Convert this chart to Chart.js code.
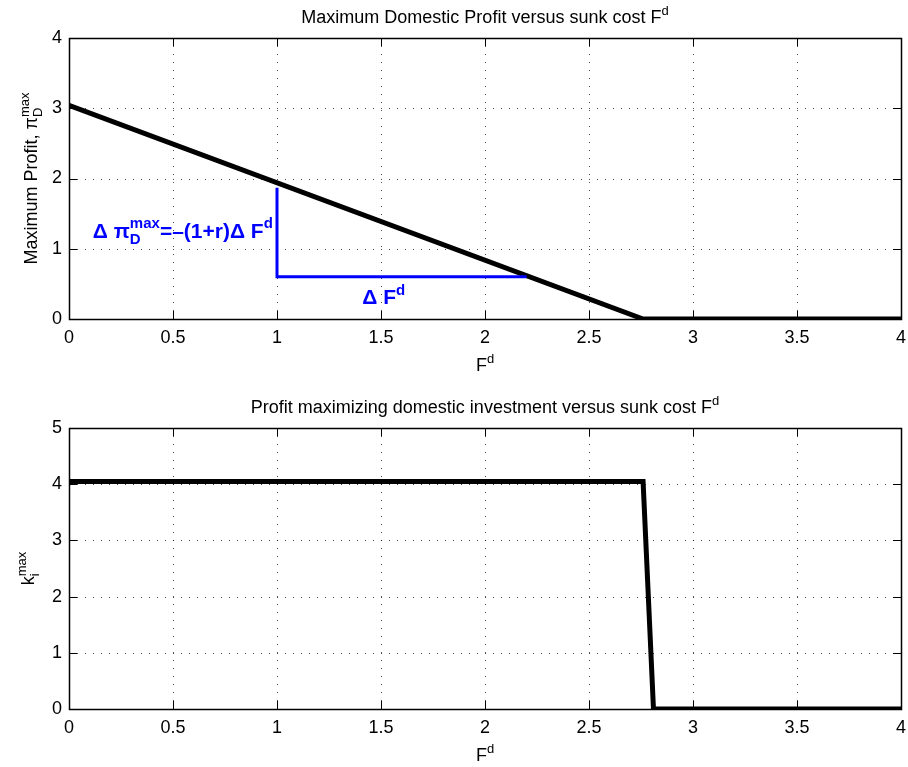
<!DOCTYPE html>
<html>
<head>
<meta charset="utf-8">
<script src="https://cdn.jsdelivr.net/npm/chart.js@4.4.1/dist/chart.umd.min.js"></script>
<style>
  body { margin: 0; background: #fff; }
  #wrap { position: relative; width: 908px; height: 767px; }
  canvas { position: absolute; left: 0; }
</style>
</head>
<body>
<div id="wrap">
  <canvas id="topChart" width="908" height="380" style="top:0"></canvas>
  <canvas id="bottomChart" width="908" height="387" style="top:380px"></canvas>
</div>
<script>
// data
const xTicks = [0, 0.5, 1, 1.5, 2, 2.5, 3, 3.5, 4];
const yTicksTop = [0, 1, 2, 3, 4];
const yTicksBottom = [0, 1, 2, 3, 4, 5];

// maximum domestic profit vs sunk cost
const profitFd = [0, 2.76, 4];
const profitMax = [3.04, 0, 0];

// slope triangle (blue)
const deltaFd = [1, 1, 2.2];
const deltaPi = [1.87, 0.6, 0.6];

// profit maximizing investment vs sunk cost
const invFd = [0, 2.76, 2.81, 4];
const invMax = [4.05, 4.05, 0, 0];

const FONT = '"Liberation Sans", Arial, Helvetica, sans-serif';
const TXT = 18;

function toPoints(xs, ys) {
  return xs.map((x, i) => ({ x: x, y: ys[i] }));
}

// draws text made of pieces, some raised or lowered
function drawRich(ctx, parts, x, y, size, bold, color, align) {
  const big = (bold ? 'bold ' : '') + size + 'px ' + FONT;
  const small = (bold ? 'bold ' : '') + Math.round(size * 0.72) + 'px ' + FONT;
  const widths = parts.map(p => {
    if (p.pair) {
      ctx.font = small;
      return Math.max(ctx.measureText(p.sub).width, ctx.measureText(p.sup).width);
    }
    ctx.font = (p.sub || p.sup) ? small : big;
    return ctx.measureText(p.t).width;
  });
  const total = widths.reduce((s, v) => s + v, 0);
  let cx = x;
  if (align === 'center') cx = x - total / 2;
  if (align === 'right') cx = x - total;
  ctx.fillStyle = color;
  ctx.textBaseline = 'alphabetic';
  ctx.textAlign = 'left';
  parts.forEach((p, i) => {
    if (p.pair) {
      ctx.font = small;
      ctx.fillText(p.sup, cx, y - size * 0.45);
      ctx.fillText(p.sub, cx, y + size * 0.3);
    } else {
      ctx.font = (p.sub || p.sup) ? small : big;
      let dy = 0;
      if (p.sup) dy = -size * 0.45;
      if (p.sub) dy = size * 0.3;
      ctx.fillText(p.t, cx, y + dy);
    }
    cx += widths[i];
  });
}

// MATLAB-like frame: dotted grid, box and inward ticks
const matlabFrame = {
  id: 'matlabFrame',
  beforeDatasetsDraw(chart, args, opts) {
    const ctx = chart.ctx;
    const a = chart.chartArea;
    const xs = chart.scales.x, ys = chart.scales.y;
    ctx.save();
    ctx.strokeStyle = 'rgba(0,0,0,0.7)';
    ctx.lineWidth = 1;
    ctx.setLineDash([1, 7]);
    opts.xTicks.forEach(v => {
      const px = Math.round(xs.getPixelForValue(v)) + 0.5;
      if (px <= a.left + 1 || px >= a.right - 1) return;
      ctx.beginPath(); ctx.moveTo(px, a.bottom); ctx.lineTo(px, a.top); ctx.stroke();
    });
    opts.yTicks.forEach(v => {
      const py = Math.round(ys.getPixelForValue(v)) + 0.5;
      if (py <= a.top + 1 || py >= a.bottom - 1) return;
      ctx.beginPath(); ctx.moveTo(a.left, py); ctx.lineTo(a.right, py); ctx.stroke();
    });
    ctx.setLineDash([]);
    ctx.strokeStyle = '#000';
    ctx.lineWidth = 1;
    const tl = 8;
    opts.xTicks.forEach(v => {
      const px = Math.round(xs.getPixelForValue(v)) + 0.5;
      ctx.beginPath();
      ctx.moveTo(px, a.bottom); ctx.lineTo(px, a.bottom - tl);
      ctx.moveTo(px, a.top); ctx.lineTo(px, a.top + tl);
      ctx.stroke();
    });
    opts.yTicks.forEach(v => {
      const py = Math.round(ys.getPixelForValue(v)) + 0.5;
      ctx.beginPath();
      ctx.moveTo(a.left, py); ctx.lineTo(a.left + tl, py);
      ctx.moveTo(a.right, py); ctx.lineTo(a.right - tl, py);
      ctx.stroke();
    });
    ctx.lineWidth = 1.5;
    ctx.strokeRect(Math.round(a.left) + 0.5, Math.round(a.top) + 0.5,
      Math.round(a.right - a.left), Math.round(a.bottom - a.top));
    ctx.restore();
  },
  afterDraw(chart, args, opts) {
    const ctx = chart.ctx;
    const a = chart.chartArea;
    ctx.save();
    // title
    drawRich(ctx, opts.title, (a.left + a.right) / 2, a.top - 15, TXT, false, '#000', 'center');
    // x label
    drawRich(ctx, [{ t: 'F' }, { t: 'd', sup: true }], (a.left + a.right) / 2, a.bottom + 52, TXT, false, '#000', 'center');
    // y label, rotated
    ctx.translate(opts.yLabelX, (a.top + a.bottom) / 2);
    ctx.rotate(-Math.PI / 2);
    drawRich(ctx, opts.yLabel, 0, 0, TXT, false, '#000', 'center');
    ctx.restore();
    if (opts.extra) opts.extra(chart);
  }
};

function makeChart(id, datasets, yMax, yTicks, topPad, xAxisH, frame) {
  return new Chart(document.getElementById(id), {
    type: 'scatter',
    data: { datasets: datasets },
    plugins: [matlabFrame],
    options: {
      responsive: false,
      animation: false,
      devicePixelRatio: 1,
      layout: { padding: { left: 0, right: 7, top: topPad, bottom: 0 } },
      plugins: {
        legend: { display: false },
        tooltip: { enabled: false },
        matlabFrame: Object.assign({ xTicks: xTicks, yTicks: yTicks }, frame)
      },
      scales: {
        x: {
          type: 'linear', min: 0, max: 4,
          afterBuildTicks: s => { s.ticks = xTicks.map(v => ({ value: v })); },
          afterFit: s => { s.height = xAxisH; s.paddingLeft = 0; s.paddingRight = 0; },
          grid: { display: false, drawTicks: false },
          border: { display: false },
          ticks: { color: '#000', padding: 8, maxRotation: 0, autoSkip: false,
                   callback: v => String(v),
                   font: { family: FONT, size: TXT } }
        },
        y: {
          type: 'linear', min: 0, max: yMax,
          afterBuildTicks: s => { s.ticks = yTicks.map(v => ({ value: v })); },
          afterFit: s => { s.width = 69; s.paddingTop = 0; s.paddingBottom = 0; },
          grid: { display: false, drawTicks: false },
          border: { display: false },
          ticks: { color: '#000', padding: 7, autoSkip: false,
                   callback: v => String(v),
                   font: { family: FONT, size: TXT } }
        }
      }
    }
  });
}

const lineStyle = { showLine: true, pointRadius: 0, fill: false, tension: 0 };

makeChart('topChart', [
  Object.assign({ data: toPoints(deltaFd, deltaPi), borderColor: '#0000ff', borderWidth: 3,
    borderJoinStyle: 'miter' }, lineStyle),
  Object.assign({ data: toPoints(profitFd, profitMax), borderColor: '#000', borderWidth: 5 }, lineStyle)
], 4, yTicksTop, 38, 61, {
  title: [{ t: 'Maximum Domestic Profit versus sunk cost F' }, { t: 'd', sup: true }],
  yLabel: [{ t: 'Maximum Profit, \u03c0' }, { pair: true, sub: 'D', sup: 'max' }],
  yLabelX: 37,
  extra(chart) {
    const ctx = chart.ctx;
    const xs = chart.scales.x, ys = chart.scales.y;
    drawRich(ctx, [{ t: '\u0394 \u03c0' }, { pair: true, sub: 'D', sup: 'max' },
      { t: '=\u2013(1+r)\u0394 F' }, { t: 'd', sup: true }],
      xs.getPixelForValue(0.98), ys.getPixelForValue(1.16), 21, true, '#0000ff', 'right');
    drawRich(ctx, [{ t: '\u0394 F' }, { t: 'd', sup: true }],
      xs.getPixelForValue(1.41), ys.getPixelForValue(0.21), 21, true, '#0000ff', 'left');
  }
});

makeChart('bottomChart', [
  Object.assign({ data: toPoints(invFd, invMax), borderColor: '#000', borderWidth: 5,
    borderJoinStyle: 'miter' }, lineStyle)
], 5, yTicksBottom, 48, 58, {
  title: [{ t: 'Profit maximizing domestic investment versus sunk cost F' }, { t: 'd', sup: true }],
  yLabel: [{ t: 'k' }, { pair: true, sub: 'i', sup: 'max' }],
  yLabelX: 34
});
</script>
</body>
</html>
